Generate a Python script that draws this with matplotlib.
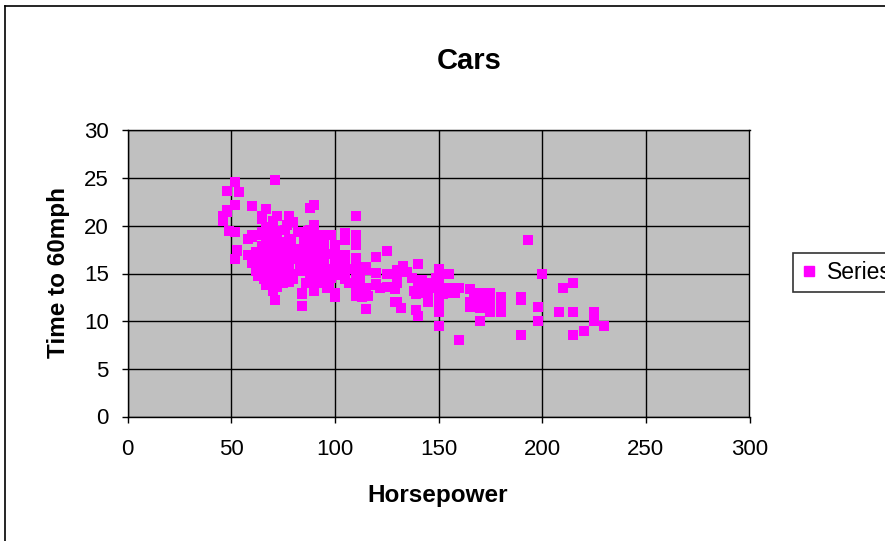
import matplotlib
matplotlib.use("Agg")
import matplotlib.pyplot as plt
from matplotlib.lines import Line2D

# Horsepower (x) and time to 60 mph (y) for each car
horsepower = [
    130,165,150,150,140,198,220,215,225,190,170,160,150,225,
    95,95,97,85,88,46,87,90,95,113,90,215,200,210,193,88,90,95,
    100,105,100,88,100,165,175,153,150,180,170,175,110,72,100,88,86,
    90,70,76,65,69,60,70,95,80,54,90,86,165,175,150,153,150,208,155,160,
    190,97,150,130,140,150,112,76,87,69,86,92,97,80,88,175,150,145,137,150,
    198,150,158,150,215,225,175,105,100,100,88,95,46,150,167,170,180,100,88,72,
    94,90,85,107,90,145,230,49,75,91,112,150,110,122,180,95,
    100,100,67,80,65,75,100,110,105,140,150,150,140,150,83,67,78,52,61,75,75,75,97,
    93,67,95,105,72,72,170,145,150,148,110,105,110,95,110,110,129,75,83,100,
    78,96,71,97,97,70,90,95,88,98,115,53,86,81,92,79,83,140,150,120,
    152,100,105,81,90,52,60,70,53,100,78,110,95,71,70,75,72,102,150,88,
    108,120,180,145,130,150,68,80,58,96,70,145,110,145,130,110,105,100,98,180,
    170,190,149,78,88,75,89,63,83,67,78,97,110,110,48,66,52,70,60,110,
    140,139,105,95,85,88,100,90,105,85,110,120,145,165,139,140,68,95,97,75,
    95,105,85,97,103,125,115,133,71,68,115,85,88,90,110,130,129,138,135,155,
    142,125,150,71,65,80,80,77,125,71,90,70,70,65,69,90,115,115,90,76,
    60,70,65,90,88,90,90,78,90,75,92,75,65,105,65,48,48,67,67,67,
    67,62,132,100,88,72,84,84,92,110,84,58,64,60,67,65,62,68,63,65,65,74,
    75,75,100,74,80,76,116,120,110,105,88,85,88,88,88,85,84,90,92,
    74,68,68,63,70,88,75,70,67,67,67,110,85,92,112,96,84,90,86,52,84,79,82,
]
time_to_60 = [
    12.0,11.5,11.0,12.0,10.5,10.0,9.0,8.5,10.0,8.5,10.0,8.0,9.5,10.0,
    15.0,15.5,15.5,16.0,14.5,20.5,17.5,14.5,17.5,12.5,15.0,14.0,15.0,13.5,18.5,14.5,15.5,14.0,
    13.0,15.5,15.5,15.5,15.5,12.0,11.5,13.5,13.0,11.5,12.0,12.0,13.5,19.0,15.0,14.5,14.0,
    14.0,19.5,14.5,19.0,18.0,19.0,20.5,15.5,17.0,23.5,19.5,16.5,12.0,12.0,13.5,13.0,11.5,11.0,13.5,13.5,
    12.5,13.5,12.5,14.0,16.0,14.0,14.5,18.0,19.5,18.0,16.0,17.0,14.5,15.0,16.5,13.0,11.5,13.0,14.5,12.5,
    11.5,12.0,13.0,14.5,11.0,11.0,11.0,16.5,18.0,16.0,16.5,16.0,21.0,14.0,12.5,13.0,12.5,15.0,19.0,19.5,
    16.5,13.5,18.5,14.0,15.5,13.0,9.5,19.5,15.5,14.0,15.5,11.0,14.0,13.5,11.0,16.5,
    16.0,17.0,19.0,16.5,21.0,17.0,17.0,18.0,16.5,14.0,14.5,13.5,16.0,15.5,16.5,15.5,14.5,16.5,19.0,14.5,15.5,14.0,15.0,
    15.5,16.0,16.0,16.0,21.0,19.5,11.5,14.0,14.5,13.5,21.0,18.5,19.0,19.0,15.0,13.5,12.0,16.0,17.0,16.0,
    18.5,13.5,16.5,17.0,14.5,14.0,17.0,15.0,17.0,14.5,13.5,17.5,15.5,16.9,14.9,17.7,15.3,13.0,13.0,13.9,
    12.8,15.4,14.5,17.6,17.6,22.2,22.1,14.2,17.4,17.7,21.0,16.2,17.8,12.2,17.0,16.4,13.6,15.7,13.2,21.9,
    15.5,16.7,12.1,12.0,15.0,14.0,18.5,14.8,18.6,15.5,16.8,12.5,19.0,13.7,14.9,16.4,16.9,17.7,19.0,11.1,
    11.4,12.2,14.5,14.5,16.0,18.2,15.8,17.0,15.9,16.4,14.1,14.5,12.8,13.5,21.5,14.4,19.4,18.6,16.4,15.5,
    13.2,12.8,19.2,18.2,15.8,15.4,17.2,17.2,15.8,16.7,18.7,15.1,13.2,13.4,11.2,13.7,16.5,14.2,14.7,14.5,
    14.8,16.7,17.6,14.9,15.9,13.6,15.7,15.8,14.9,16.6,15.4,18.2,17.3,18.2,16.6,15.4,13.4,13.2,15.2,14.9,
    14.3,15.0,13.0,14.0,15.2,14.4,15.0,20.1,17.4,24.8,22.2,13.2,14.9,19.2,14.7,16.0,11.3,12.9,13.2,14.7,
    18.8,15.5,16.4,16.5,18.1,20.1,18.7,15.8,15.5,17.5,15.0,15.2,17.9,14.4,19.2,21.7,23.7,19.9,21.8,13.8,
    18.0,15.3,11.4,12.5,15.1,17.0,15.7,16.4,14.4,12.6,12.9,16.9,16.4,16.1,17.8,19.4,17.3,16.0,14.9,16.2,20.7,14.2,
    14.4,16.8,14.8,18.3,20.4,19.6,12.6,13.8,15.8,19.0,17.1,16.6,19.6,18.6,18.0,16.2,16.0,18.0,16.4,
    15.3,18.2,17.6,14.7,17.3,14.5,14.5,16.9,15.0,15.7,16.2,16.4,17.0,14.5,14.7,13.9,13.0,17.3,15.6,24.6,11.6,18.6,19.4,
]

x_ticks = [0, 50, 100, 150, 200, 250, 300]
y_ticks = [0, 5, 10, 15, 20, 25, 30]
title = "Cars"
x_label = "Horsepower"
y_label = "Time to 60mph"
series_name = "Series1"

plt.rcParams['font.family'] = ['Liberation Sans', 'DejaVu Sans']

W, H = 885, 541
fig = plt.figure(figsize=(W / 100, H / 100), dpi=100)
fig.patch.set_facecolor('white')

ax = fig.add_axes([127.5 / W, 1 - 416.5 / H, 622 / W, 286 / H])
ax.set_facecolor('#C0C0C0')
ax.set_xlim(0, 300)
ax.set_ylim(0, 30)
ax.set_xticks(x_ticks)
ax.set_yticks(y_ticks)
ax.grid(True, color='black', linewidth=1.0)
ax.set_axisbelow(True)
for s in ax.spines.values():
    s.set_color('black')
    s.set_linewidth(1.0)
ax.tick_params(direction='out', length=4.5, width=1.0, colors='black',
               labelsize=16)
ax.tick_params(axis='x', pad=12)
ax.tick_params(axis='y', pad=9)

ax.scatter(horsepower, time_to_60, marker='s', s=52, c='#FF00FF',
           linewidths=0, zorder=3)

fig.text(469 / W, 1 - 61 / H, title, ha='center', va='center',
         fontsize=21, fontweight='bold')
fig.text(438 / W, 1 - 502 / H, x_label, ha='center', va='baseline',
         fontsize=17.5, fontweight='bold')
fig.text(58 / W, 1 - 272 / H, y_label, ha='center', va='center',
         rotation=90, fontsize=17.5, fontweight='bold')

# legend box sits at the right edge, its label runs past the edge as in the original
handle = Line2D([], [], marker='s', linestyle='none', color='#FF00FF',
                markersize=7)
leg = fig.legend([handle], [series_name], loc='upper left',
                 bbox_to_anchor=(793 / W, 1 - 253 / H), borderaxespad=0,
                 fontsize=16.5, frameon=True, fancybox=False, edgecolor='black',
                 handlelength=0.7, handletextpad=0.45, borderpad=0.35)
leg.get_frame().set_linewidth(1.2)

# outer chart frame (left and top edges visible)
fig.add_artist(Line2D([5 / W, 5 / W], [0, 1 - 6 / H], transform=fig.transFigure,
                      color='black', linewidth=1.2))
fig.add_artist(Line2D([5 / W, 1], [1 - 6 / H, 1 - 6 / H], transform=fig.transFigure,
                      color='black', linewidth=1.2))

fig.savefig('out.png', dpi=100)
